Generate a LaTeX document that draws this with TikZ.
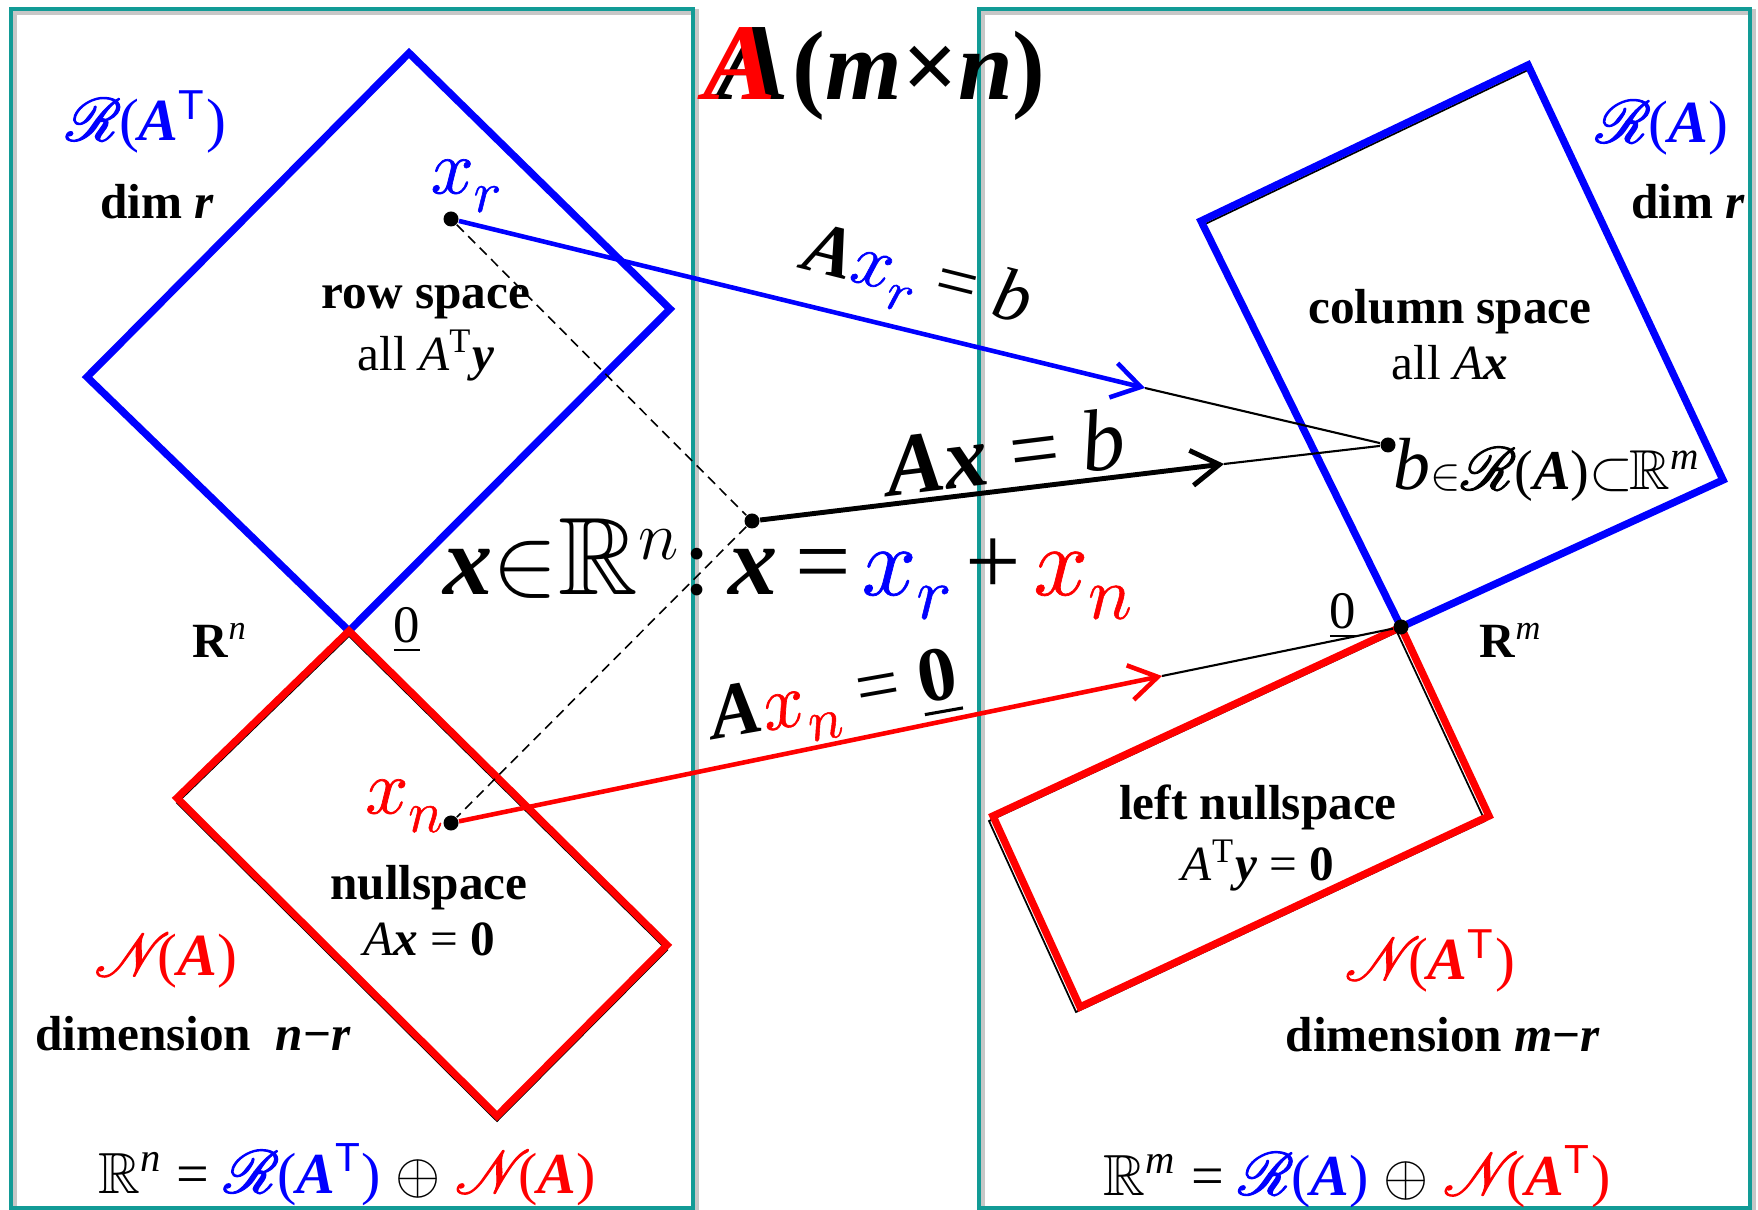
\documentclass[tikz,border=0pt]{standalone}
\usepackage{fix-cm}
\usepackage{amsmath}
\usepackage{amssymb}
\usepackage{mathrsfs}
\usepackage{graphicx}
\usepackage{fontspec}
\setmainfont{Liberation Serif}
\setsansfont{Liberation Sans}
\usetikzlibrary{arrows.meta}
\definecolor{tealframe}{RGB}{18,155,150}
\newcommand\fsz[1]{\fontsize{#1}{#1}\selectfont}
\newcommand\ii[1]{\textit{#1}}
\newcommand\bi[1]{\textbf{\textit{#1}}}
\newcommand\thk[2]{\special{pdf:literal direct 2 Tr #1 w}#2\special{pdf:literal direct 0 Tr}}
\newcommand\sT{\textsuperscript{\textsf{T}}}
\newcommand\mx{\thk{0.2}{$x$}}
\newcommand\dn[1]{\raisebox{-0.24em}{\scalebox{0.76}{\thk{0.2}{$#1$}}}}
\newcommand\scR{\thk{0.3}{$\mathscr{R}$}\hspace{-0.04em}}
\newcommand\scN{\thk{0.3}{$\mathscr{N}$}\hspace{-0.22em}}
\begin{document}
\begin{tikzpicture}[x=0.01cm,y=-0.01cm,
  panel/.style={draw=tealframe,line width=1.2pt},
  panelshadow/.style={draw=black!22,line width=1.6pt},
  bluebox/.style={draw=blue,line width=2.1pt,line join=miter},
  redbox/.style={draw=red,line width=2.1pt,line join=miter},
  innerline/.style={draw=black,line width=0.5pt},
  dashline/.style={draw=black,line width=0.45pt,dash pattern=on 2.8pt off 1.8pt},
  thinline/.style={draw=black,line width=0.6pt},
  barb/.style={-{Straight Barb[length=8pt,width=10pt,line width=#1]}},
  bluearrow/.style={draw=blue,line width=1.3pt,barb=1.3pt},
  redarrow/.style={draw=red,line width=1.3pt,barb=1.3pt},
  blackarrow/.style={draw=black,line width=1.4pt,barb=1.4pt},
  dot/.style={circle,fill=black,inner sep=0pt,minimum size=0.15cm},
  lbl/.style={inner sep=0pt},
  body/.style={inner sep=0pt,font=\fsz{14}},
  big/.style={inner sep=0pt,font=\fsz{17}},
]
\useasboundingbox (0,0) rectangle (1758,1210);
\fill[white] (0,0) rectangle (1758,1210);

% panels
\draw[panelshadow] (14,12) rectangle (696,1211);
\draw[panelshadow] (982,12) rectangle (1753,1211);
\draw[panel] (11,9) rectangle (693,1208);
\draw[panel] (979,9) rectangle (1750,1208);

% corner coordinates
\coordinate (T1) at (409,53);  \coordinate (R1) at (670,309);
\coordinate (B1) at (349,631); \coordinate (L1) at (87,377);
\coordinate (R2) at (667,945); \coordinate (B2) at (497,1116); \coordinate (L2) at (177,798);
\coordinate (T3) at (1528,65); \coordinate (R3) at (1723,480);
\coordinate (B3) at (1401,627); \coordinate (L3) at (1201,221);
\coordinate (R4) at (1489,816); \coordinate (B4) at (1080,1007); \coordinate (L4) at (993,816);

% black under-lines
\draw[innerline] ([shift={(0,5)}]B1) -- ([shift={(0,5)}]R2) -- ([shift={(0,5)}]B2) -- ([shift={(0,5)}]L2) -- cycle;
\draw[innerline] ([shift={(-4,5)}]B3) -- ([shift={(-4,5)}]R4) -- ([shift={(-4,5)}]B4) -- ([shift={(-4,5)}]L4) -- cycle;
\draw[innerline] ([shift={(0,5)}]L3) -- ([shift={(0,5)}]T3);

% subspaces
\draw[bluebox] (T1) -- (R1) -- (B1) -- (L1) -- cycle;
\draw[redbox] (B1) -- (R2) -- (B2) -- (L2) -- cycle;
\draw[bluebox] (T3) -- (R3) -- (B3) -- (L3) -- cycle;
\draw[redbox] (B3) -- (R4) -- (B4) -- (L4) -- cycle;

% points
\node[dot] (xr) at (451,219) {};
\node[dot] (xx) at (752,521) {};
\node[dot] (xn) at (451,823) {};
\node[dot] (bb) at (1388,445) {};
\node[dot] (zz) at (1401,627) {};
\coordinate (tb) at (1145,388);
\coordinate (tk) at (1224,464);
\coordinate (tr) at (1162,676);

\draw[dashline] (xr) -- (xx) -- (xn);
\draw[thinline] (tb) -- (bb);
\draw[thinline] (tk) -- (bb);
\draw[thinline] (tr) -- (zz);
\draw[bluearrow] (xr) -- (tb);
\draw[blackarrow] (xx) -- (tk);
\draw[redarrow] (xn) -- (tr);

% title
\node[lbl,anchor=base west,font=\fsz{31}] (titA) at (716,100) {\bi{A}};
\node[lbl,anchor=base west,font=\fsz{31},red] (titAr) at (703,100) {\bi{A}};
\node[lbl,anchor=base west,font=\fsz{28}] (titmn) at (792,100) {\textbf{(}\bi{m}\textbf{×}\bi{n}\textbf{)}};

% left panel labels
\node[big,blue] (RAT) at (146,122) {\scR(\bi{A}\sT)};
\node[body] (dimL) at (157,202) {\textbf{dim \textit{r}}};
\node[lbl,blue,font=\fsz{22}] (xrl) at (466,186) {\mx\dn{r}};
\node[body,align=center] (rowsp) at (426,333) {\textbf{row space}\\[2pt] all \ii{A}\textsuperscript{T}\bi{y}};
\node[body] (Rn) at (220,640) {\textbf{R}\textsuperscript{\ii{n}}};
\node[lbl,font=\fsz{15}] (zeroL) at (407,630) {\underline{0}};
\node[lbl,red,font=\fsz{22}] (xnl) at (404,806) {\mx\dn{n}};
\node[body,align=center] (nullsp) at (429,911) {\textbf{nullspace}\\[2pt] \ii{A}\bi{x} = \textbf{0}};
\node[big,red] (NA) at (166,961) {\scN(\bi{A})};
\node[body] (dimNL) at (193,1034) {\textbf{dimension \ \textit{n}−\textit{r}}};
\node[lbl,anchor=base,font=\fsz{16.5}] (eqL) at (347,1193) {$\mathbb{R}$\textsuperscript{\ii{n}} = \textcolor{blue}{\scR(\bi{A}\sT)} $\oplus$ \textcolor{red}{\scN(\bi{A})}};

% middle labels
\node[lbl,font=\fsz{21},rotate=-14] (Axrb) at (917,280) {\bi{A}\textcolor{blue}{\mx\dn{r}} = \ii{b}};
\node[lbl,font=\fsz{25},rotate=7] (Axb) at (1005,452) {\bi{Ax} = \ii{b}};
\node[lbl,anchor=base west,font=\fsz{28}] (xeq) at (443,595) {\bi{x}$\in$\scalebox{1.12}{$\mathbb{R}$}\textsuperscript{$n$}\hspace{1pt}:\hspace{5pt}\bi{x}\hspace{5pt}=\hspace{3pt}\textcolor{blue}{\mx\dn{r}}\hspace{4pt}+\hspace{3.5pt}\textcolor{red}{\mx\dn{n}}};
\node[lbl,font=\fsz{22},rotate=10] (Axn0) at (835,702) {\bi{A}\textcolor{red}{\mx\dn{n}} = \underline{\textbf{0}}};

% right panel labels
\node[big,blue] (RA) at (1662,128) {\scR(\bi{A})};
\node[body] (dimR) at (1688,202) {\textbf{dim \textit{r}}};
\node[body,align=center] (colsp) at (1450,335) {\textbf{column space}\\[2pt] all \ii{A}\bi{x}};
\node[lbl,anchor=base west] (bin) at (1393,490) {{\fsz{21}\ii{b}}{\fsz{13}$\in$}{\fsz{16}\scR(\bi{A})$\subset$\hspace{-1pt}$\mathbb{R}$\textsuperscript{\ii{m}}}};
\node[lbl,font=\fsz{15}] (zeroR) at (1343,616) {\underline{0}};
\node[body] (Rm) at (1511,640) {\textbf{R}\textsuperscript{\ii{m}}};
\node[body,align=center] (lnull) at (1258,838) {\textbf{left nullspace}\\[2pt] \ii{A}\textsuperscript{T}\bi{y} = \textbf{0}};
\node[big,red] (NAT) at (1430,961) {\scN(\bi{A}\sT)};
\node[body] (dimNR) at (1443,1035) {\textbf{dimension \textit{m}−\textit{r}}};
\node[lbl,anchor=base,font=\fsz{16.5}] (eqR) at (1357,1195) {$\mathbb{R}$\textsuperscript{\ii{m}} = \textcolor{blue}{\scR(\bi{A})} $\oplus$ \textcolor{red}{\scN(\bi{A}\sT)}};
\end{tikzpicture}
\end{document}
